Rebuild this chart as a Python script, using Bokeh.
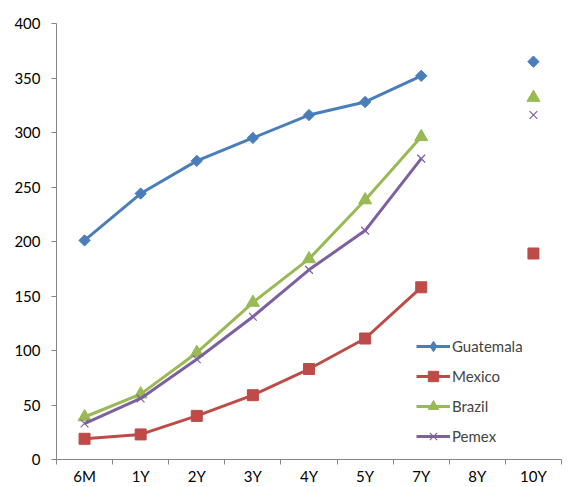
import numpy as np
from bokeh.plotting import figure
from bokeh.models import FixedTicker, Legend
from bokeh.embed import file_html
from bokeh.resources import INLINE

# Tenors and spread series (8Y has no quote)
tenors = ["6M", "1Y", "2Y", "3Y", "4Y", "5Y", "7Y", "8Y", "10Y"]
guatemala = [201, 244, 274, 295, 316, 328, 352, None, 365]
mexico = [19, 23, 40, 59, 83, 111, 158, None, 189]
brazil = [39, 60, 98, 144, 184, 238, 296, None, 332]
pemex = [33, 56, 92, 131, 174, 210, 276, None, 316]
y_ticks = [0, 50, 100, 150, 200, 250, 300, 350, 400]

FONT = "Lato"
AXIS_GREY = "#868686"

x = np.arange(len(tenors)) + 0.5

p = figure(width=569, height=487, output_backend="svg", toolbar_location=None,
           x_range=(0, len(tenors)), y_range=(0, 400),
           min_border_left=56, min_border_right=8, min_border_top=23, min_border_bottom=0)
p.outline_line_color = None
p.xgrid.grid_line_color = None
p.ygrid.grid_line_color = None

# x axis: labels at category centres, tick marks on category boundaries
p.xaxis.ticker = FixedTicker(ticks=list(x), minor_ticks=list(range(len(tenors) + 1)))
p.xaxis.major_label_overrides = {float(v): t for v, t in zip(x, tenors)}
p.xaxis.major_tick_line_color = None
p.xaxis.major_tick_out = 0
p.xaxis.major_tick_in = 0
p.xaxis.minor_tick_out = 0
p.xaxis.minor_tick_in = -5
p.xaxis.minor_tick_line_color = AXIS_GREY
p.xaxis.major_label_standoff = 7

p.yaxis.ticker = FixedTicker(ticks=y_ticks)
p.yaxis.major_tick_out = 5
p.yaxis.major_tick_in = 0
p.yaxis.major_tick_line_color = AXIS_GREY
p.yaxis.minor_tick_line_color = None
p.yaxis.major_label_standoff = 11

for ax in (p.xaxis[0], p.yaxis[0]):
    ax.axis_line_color = AXIS_GREY
    ax.major_label_text_font = FONT
    ax.major_label_text_font_size = "15px"
    ax.major_label_text_color = "#000000"


def vals(series):
    return [np.nan if v is None else v for v in series]


specs = [
    ("Guatemala", guatemala, "#4A7EBB", "square", 8, np.pi / 4),
    ("Mexico", mexico, "#BE4B48", "square", 11, 0),
    ("Brazil", brazil, "#98B954", "triangle", 13, 0),
    ("Pemex", pemex, "#7D60A0", "x", 11, 0),
]

items = []
for name, series, color, marker, size, angle in specs:
    ys = vals(series)
    ln = p.line(x, ys, line_color=color, line_width=3)
    if marker == "x":
        sc = p.scatter(x, ys, marker=marker, size=size, line_color=color, line_width=1.2)
    else:
        sc = p.scatter(x, ys, marker=marker, size=size, angle=angle,
                       fill_color=color, line_color=color)
    if angle:
        # legend glyphs are drawn unrotated, so give the key a diamond of its own
        key = p.scatter(x, ys, marker="diamond", size=size, fill_color=color,
                        line_color=color, visible=False)
        items.append((name, [ln, key]))
    else:
        items.append((name, [ln, sc]))

legend = Legend(items=items, location=(360, 10), orientation="vertical",
                glyph_width=34, glyph_height=26, label_height=26, spacing=4,
                padding=0, margin=0, label_standoff=2,
                label_text_font=FONT, label_text_font_size="15px",
                border_line_color=None, background_fill_alpha=0)
p.add_layout(legend, "center")

open("out.html", "w").write(file_html(p, INLINE))
